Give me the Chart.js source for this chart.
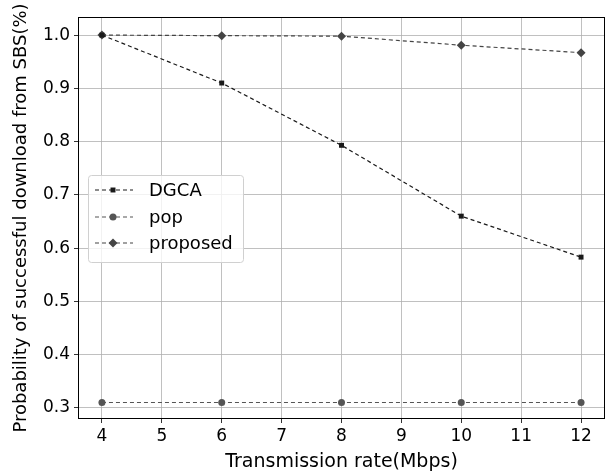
<!DOCTYPE html>
<html>
<head>
<meta charset="utf-8">
<script src="https://cdn.jsdelivr.net/npm/chart.js@4/dist/chart.umd.min.js"></script>
<style>
  html, body { margin: 0; padding: 0; background: #fff; }
  #wrap { width: 610px; height: 475px; }
</style>
</head>
<body>
<div id="wrap"><canvas id="chart" width="610" height="475"></canvas></div>
<script>
const rates = [4, 6, 8, 10, 12];
const xTicks = [4, 5, 6, 7, 8, 9, 10, 11, 12];
const yTicks = [0.3, 0.4, 0.5, 0.6, 0.7, 0.8, 0.9, 1.0];
const dgca = [1.0, 0.91, 0.793, 0.66, 0.583];
const pop = [0.31, 0.31, 0.31, 0.31, 0.31];
const proposed = [1.0, 0.999, 0.998, 0.981, 0.967];

const FONT = "'DejaVu Sans', sans-serif";

function series(label, values, color, style, radius) {
  return {
    label,
    data: rates.map((x, i) => ({ x, y: values[i] })),
    borderColor: color,
    backgroundColor: color,
    borderWidth: 1.2,
    borderDash: [4, 3],
    pointStyle: style,
    pointRadius: radius,
    pointBorderWidth: 0,
    fill: false,
    tension: 0
  };
}

// matplotlib-like frame and legend inside the plot
const framePlugin = {
  id: "frame",
  afterDraw(chart) {
    const { ctx, chartArea: a } = chart;
    ctx.save();
    ctx.strokeStyle = "#000";
    ctx.lineWidth = 1;
    ctx.strokeRect(Math.round(a.left) + 0.5, Math.round(a.top) + 0.5,
      Math.round(a.right - a.left) - 1, Math.round(a.bottom - a.top) - 1);

    // legend box
    const bx = 88, by = 175, bw = 155, bh = 87;
    ctx.fillStyle = "rgba(255,255,255,0.8)";
    ctx.strokeStyle = "#d0d0d0";
    ctx.beginPath();
    ctx.roundRect(bx + 0.5, by + 0.5, bw, bh, 3);
    ctx.fill();
    ctx.stroke();

    ctx.font = "18px " + FONT;
    ctx.textBaseline = "middle";
    const rows = [190, 217, 243];
    chart.data.datasets.forEach((ds, i) => {
      const cy = rows[i];
      ctx.strokeStyle = ds.borderColor;
      ctx.lineWidth = ds.borderWidth;
      ctx.setLineDash(ds.borderDash);
      ctx.beginPath();
      ctx.moveTo(95, cy);
      ctx.lineTo(133, cy);
      ctx.stroke();
      ctx.setLineDash([]);
      ctx.fillStyle = ds.borderColor;
      Chart.helpers.drawPoint(ctx, {
        pointStyle: ds.pointStyle,
        rotation: 0,
        radius: ds.pointRadius,
        borderWidth: 0
      }, 113, cy);
      ctx.fillStyle = "#000";
      ctx.fillText(ds.label, 149, cy + 1);
    });
    ctx.restore();
  }
};

new Chart(document.getElementById("chart"), {
  type: "line",
  data: {
    datasets: [
      series("DGCA", dgca, "#1a1a1a", "rect", 3.5),
      series("pop", pop, "#555555", "circle", 3.5),
      series("proposed", proposed, "#444444", "rectRot", 4.5)
    ]
  },
  options: {
    responsive: false,
    animation: false,
    devicePixelRatio: 1,
    layout: { padding: { top: 17, right: 5, left: 0, bottom: 0 } },
    plugins: {
      legend: { display: false },
      tooltip: { enabled: false }
    },
    scales: {
      x: {
        type: "linear",
        min: 3.6,
        max: 12.4,
        afterBuildTicks(scale) {
          scale.ticks = xTicks.map((v) => ({ value: v }));
        },
        afterFit(scale) { scale.height = 56; },
        grid: { color: "#b0b0b0", lineWidth: 0.8, tickColor: "#000", tickLength: 4 },
        border: { display: false },
        ticks: { color: "#000", font: { family: FONT, size: 17 }, padding: 3, maxRotation: 0 },
        title: {
          display: true,
          text: "Transmission rate(Mbps)",
          color: "#000",
          font: { family: FONT, size: 19 },
          padding: { top: 2, bottom: 2 }
        }
      },
      y: {
        type: "linear",
        min: 0.279,
        max: 1.034,
        afterBuildTicks(scale) {
          scale.ticks = yTicks.map((v) => ({ value: v }));
        },
        afterFit(scale) { scale.width = 78; },
        grid: { color: "#b0b0b0", lineWidth: 0.8, tickColor: "#000", tickLength: 4 },
        border: { display: false },
        ticks: {
          color: "#000",
          font: { family: FONT, size: 17 },
          padding: 4,
          callback: (v) => v.toFixed(1)
        },
        title: {
          display: true,
          text: "Probability of successful download from SBS(%)",
          color: "#000",
          font: { family: FONT, size: 18 },
          padding: { top: 11, bottom: 0 }
        }
      }
    }
  },
  plugins: [framePlugin]
});
</script>
</body>
</html>
